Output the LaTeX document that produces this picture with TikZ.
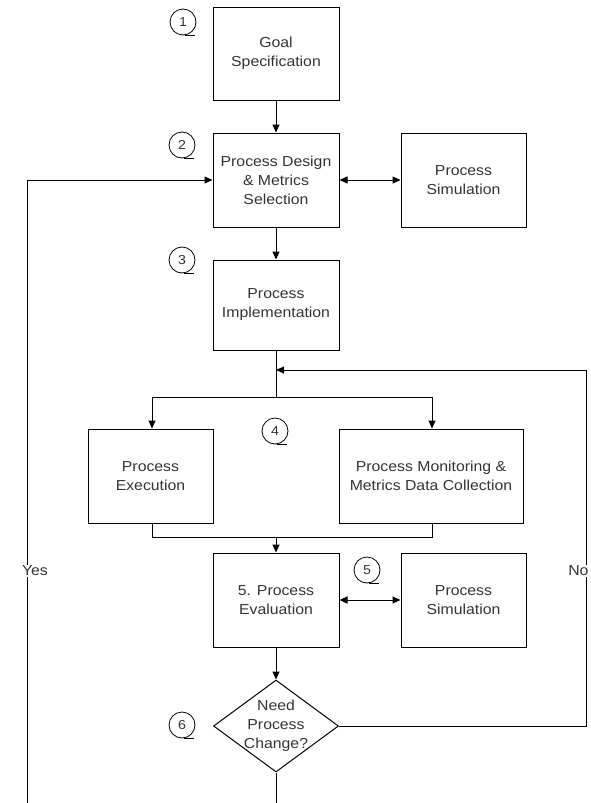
\documentclass[tikz,border=0pt]{standalone}
\usepackage{fontspec}
\setmainfont{Liberation Sans}[FakeStretch=1.09]
\usetikzlibrary{arrows.meta,shapes.geometric}
\begin{document}
\begin{tikzpicture}[x=1pt,y=-1pt,
  line width=1pt,
  every node/.style={text=black!80},
  box/.style={draw=black, rectangle, minimum width=126pt, minimum height=94pt, inner sep=0pt,
    align=center, font=\fontsize{14.5}{19}\selectfont},
  dia/.style={draw=black, diamond, minimum width=125pt, minimum height=92pt, inner sep=0pt},
  lbl/.style={align=center, font=\fontsize{14.5}{19}\selectfont, inner sep=0pt},
  num/.style={draw=black, circle, minimum size=26pt, inner sep=0pt, line width=0.8pt,
    font=\fontsize{13}{13}\selectfont},
  arr/.style={-{Triangle[length=8pt,width=7pt]}},
  darr/.style={{Triangle[length=8pt,width=7pt]}-{Triangle[length=8pt,width=7pt]}},
  side/.style={fill=white, inner sep=1pt, font=\fontsize{14.5}{19}\selectfont}]
\useasboundingbox (0,0) rectangle (591,803);

% boxes
\node[box, minimum height=93pt] (goal) at (276,53.5) {Goal\\Specification};
\node[box] (design) at (276,180) {Process Design\\\& Metrics\\Selection};
\node[box, minimum width=125pt] (sim1) at (463.5,180) {Process\\Simulation};
\node[box, minimum height=90pt] (impl) at (276,305) {Process\\Implementation};
\node[box, minimum width=125pt] (exec) at (150.5,476) {Process\\Execution};
\node[box, minimum width=184pt] (mon) at (431,476) {Process Monitoring \&\\Metrics Data Collection};
\node[box] (eval) at (276,600) {5. Process\\Evaluation};
\node[box, minimum width=125pt] (sim2) at (463.5,600) {Process\\Simulation};
\node[dia] (need) at (276,726) {};
\node[lbl] (needtxt) at (276,726) {Need\\Process\\Change?};

% numbered callouts
\foreach \n/\x/\y in {1/183/22, 2/182/145, 3/182/260, 4/275/431, 5/367/570, 6/182/725} {
  \node[num] (c\n) at (\x,\y) {\n};
  \draw[line width=0.8pt] ([xshift=2pt]c\n.south) -- ++(10,0);
}

% coordinates
\coordinate (split) at (276,397);
\coordinate (splitL) at (152,397);
\coordinate (splitR) at (432,397);
\coordinate (joinL) at (152,537);
\coordinate (joinR) at (432,537);
\coordinate (join) at (276,537);
\coordinate (nobot) at (586,726);
\coordinate (notop) at (586,370);
\coordinate (noend) at (276,370);
\coordinate (yesbot) at (27,803);
\coordinate (yestop) at (27,180);
\coordinate (dbot) at (276,803);

% connectors
\draw[arr] (goal.south) -- (design.north);
\draw[darr] (design.east) -- (sim1.west);
\draw[arr] (design.south) -- (impl.north);
\draw (impl.south) -- (split);
\draw (splitL) -- (splitR);
\draw[arr] (splitL) -- (splitL |- exec.north);
\draw[arr] (splitR) -- (splitR |- mon.north);
\draw (joinL |- exec.south) -- (joinL) -- (joinR) -- (joinR |- mon.south);
\draw[arr] (join) -- (eval.north);
\draw[darr] (eval.east) -- (sim2.west);
\draw[arr] (eval.south) -- (need.north);
\draw[arr] (need.east) -- (nobot) -- (notop) -- (noend);
\draw (need.south) -- (dbot);
\draw[arr] (yesbot) -- (yestop) -- (design.west);

% branch labels
\node[side] (yes) at (35,571) {Yes};
\node[side, anchor=east] (no) at (590,571) {No};
\end{tikzpicture}
\end{document}
